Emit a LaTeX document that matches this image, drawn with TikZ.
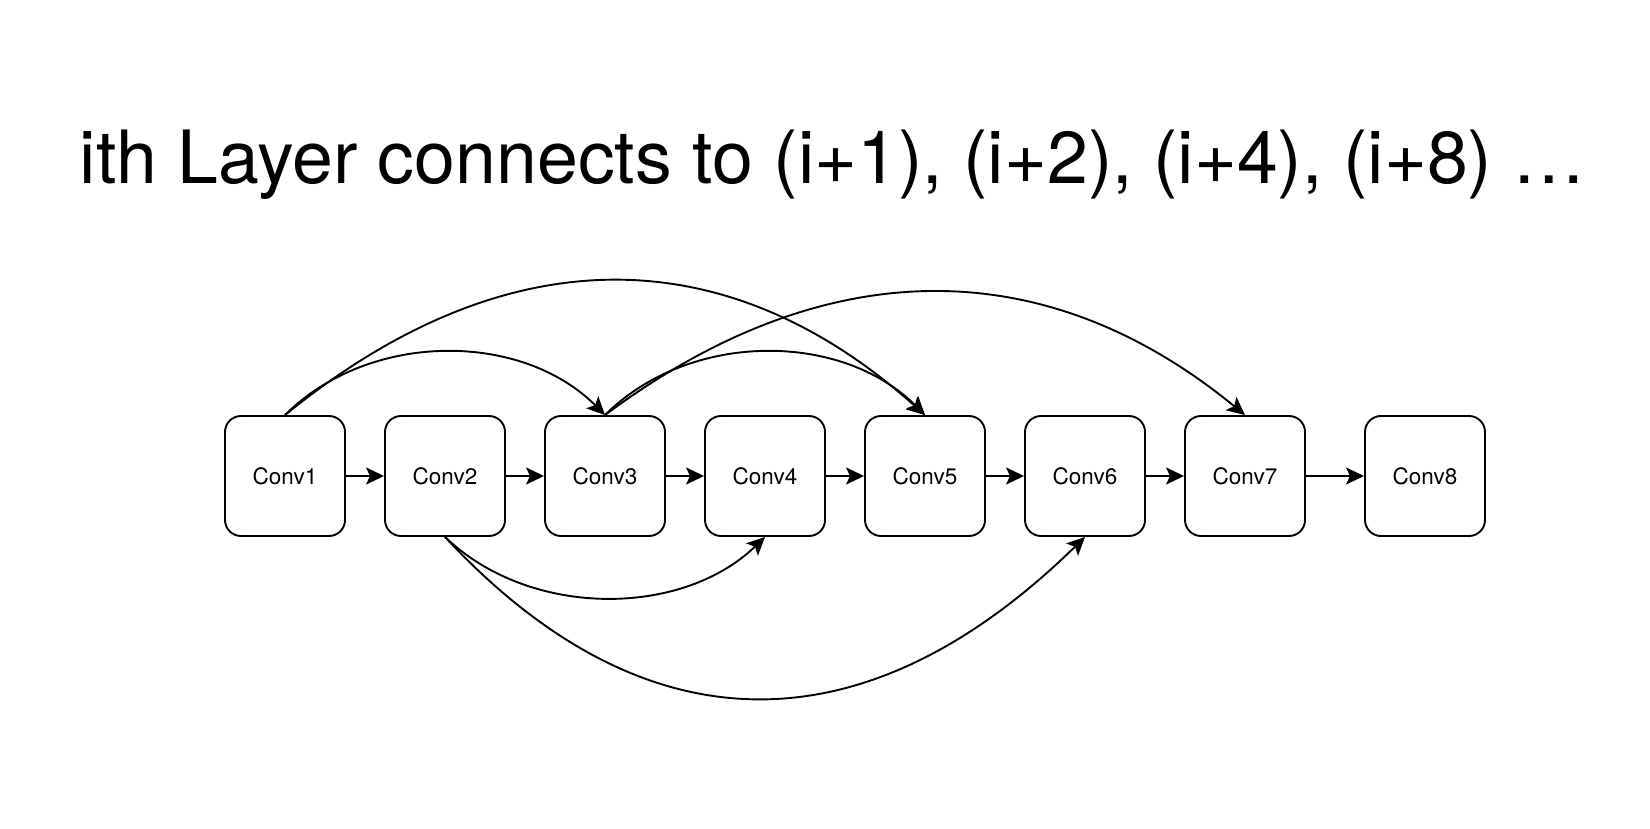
\documentclass[tikz,border=0pt]{standalone}
\usepackage{fontspec}
\setmainfont{TeX Gyre Heros}
\usetikzlibrary{arrows.meta,positioning}

\begin{document}
\begin{tikzpicture}[x=1pt,y=1pt,
  % Rounded square layers
  conv/.style={draw,rectangle,rounded corners=16pt,
               minimum width=120pt,minimum height=120pt,
               line width=1.9pt,font=\fontsize{22.5}{26}\selectfont},
  % Filled arrow tips
  arr/.style={-{Stealth[length=18pt,width=17pt,inset=4pt]},line width=1.9pt}
]
  \useasboundingbox (0,0) rectangle (1650,828);

  % ---- Title ----
  \node[anchor=base,font=\fontsize{73.5}{88}\selectfont] (title) at (833,644)
    {ith Layer connects to (i+1), (i+2), (i+4), (i+8) …};

  % ---- Layers ----
  \node[conv] (c1) at (285, 352) {Conv1};
  \node[conv] (c2) at (445, 352) {Conv2};
  \node[conv] (c3) at (605, 352) {Conv3};
  \node[conv] (c4) at (765, 352) {Conv4};
  \node[conv] (c5) at (925, 352) {Conv5};
  \node[conv] (c6) at (1085,352) {Conv6};
  \node[conv] (c7) at (1245,352) {Conv7};
  \node[conv] (c8) at (1425,352) {Conv8};

  % ---- Main chain ----
  \draw[arr] (c1) -- (c2);
  \draw[arr] (c2) -- (c3);
  \draw[arr] (c3) -- (c4);
  \draw[arr] (c4) -- (c5);
  \draw[arr] (c5) -- (c6);
  \draw[arr] (c6) -- (c7);
  \draw[arr] (c7) -- (c8);

  % ---- Skip links above ----
  \draw[arr] (c1.north) .. controls +(84,84)   and +(-84,84)   .. (c3.north);
  \draw[arr] (c1.north) .. controls +(220,179) and +(-200,179) .. (c5.north);
  \draw[arr] (c3.north) .. controls +(84,84)   and +(-84,84)   .. (c5.north);
  \draw[arr] (c3.north) .. controls +(220,164) and +(-200,164) .. (c7.north);

  % ---- Skip links below ----
  \draw[arr] (c2.south) .. controls +(84,-81)  and +(-84,-81)  .. (c4.south);
  \draw[arr] (c2.south) .. controls +(200,-215) and +(-220,-215) .. (c6.south);
\end{tikzpicture}
\end{document}
